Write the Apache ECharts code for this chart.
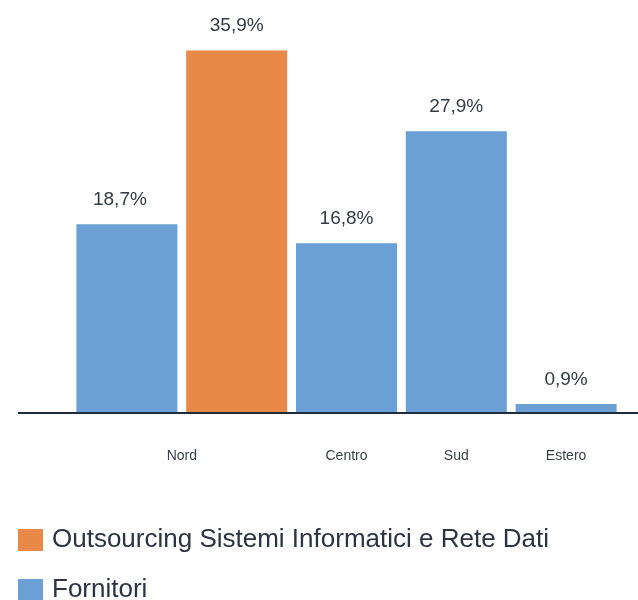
<!DOCTYPE html>
<html>
<head>
<meta charset="utf-8">
<script src="https://cdn.jsdelivr.net/npm/echarts@6/dist/echarts.min.js"></script>
<style>
  html, body { margin: 0; padding: 0; background: #ffffff; }
  #chart { width: 638px; height: 600px; }
</style>
</head>
<body>
<div id="chart"></div>
<script>
// Bar slots along the axis (Nord holds two bars, one per series)
const slots = ['Nord (Fornitori)', 'Nord (Outsourcing)', 'Centro', 'Sud', 'Estero'];
// Tick labels shown under the axis (one per region)
const tickLabels = ['Nord', '', 'Centro', 'Sud', 'Estero'];
// Series names
const seriesOutsourcing = 'Outsourcing Sistemi Informatici e Rete Dati';
const seriesFornitori = 'Fornitori';
// Values (%)
const valuesFornitori = [18.7, null, 16.8, 27.9, 0.9];
const valuesOutsourcing = [null, 35.9, null, null, null];

const FONT = "'Liberation Sans', Arial, sans-serif";
const BLUE = '#6aa0d4';
const ORANGE = '#e88948';
const AXIS = '#1f2a3a';

const fmt = p => p.value == null ? '' : p.value.toFixed(1).replace('.', ',') + '%';

const chart = echarts.init(document.getElementById('chart'), null, { renderer: 'canvas' });
chart.setOption({
  backgroundColor: '#ffffff',
  animation: false,
  grid: { left: 72, right: 17, top: 9, height: 404 },
  xAxis: {
    type: 'category',
    data: slots,
    axisLine: { show: true, lineStyle: { color: AXIS, width: 2 } },
    axisTick: { show: false },
    axisLabel: {
      interval: 0,
      margin: 36,
      fontFamily: FONT,
      fontSize: 14,
      color: '#3a3f4a',
      formatter: (v, i) => i === 0 ? '{shift|' + tickLabels[i] + '}' : tickLabels[i],
      rich: { shift: { padding: [0, 0, 0, 110], fontFamily: FONT, fontSize: 14, color: '#3a3f4a' } }
    }
  },
  yAxis: {
    type: 'value', min: 0, max: 40, show: false,
    splitLine: { show: false }
  },
  legend: {
    orient: 'vertical',
    left: 18,
    top: 527,
    height: 120,
    width: 620,
    padding: 0,
    itemWidth: 25,
    itemHeight: 22,
    itemGap: 24,
    icon: 'rect',
    data: [seriesOutsourcing, seriesFornitori],
    textStyle: { fontFamily: FONT, fontSize: 26, color: '#2c3342', padding: [0, 0, 0, 4] }
  },
  graphic: [{
    type: 'line',
    shape: { x1: 18, y1: 413, x2: 638, y2: 413 },
    style: { stroke: AXIS, lineWidth: 2 },
    z: 10
  }],
  series: [
    {
      name: seriesFornitori,
      type: 'bar',
      data: valuesFornitori.map((v, i) => i === 0 ? { value: v, label: { offset: [-7, 0] } } : v),
      barGap: '-100%',
      barCategoryGap: '8%',
      itemStyle: { color: BLUE },
      label: { show: true, position: 'top', distance: 15, formatter: fmt, fontFamily: FONT, fontSize: 19, color: '#333a45' }
    },
    {
      name: seriesOutsourcing,
      type: 'bar',
      data: valuesOutsourcing,
      barGap: '-100%',
      barCategoryGap: '8%',
      itemStyle: { color: ORANGE },
      label: { show: true, position: 'top', distance: 15, formatter: fmt, fontFamily: FONT, fontSize: 19, color: '#333a45' }
    }
  ]
});
</script>
</body>
</html>
